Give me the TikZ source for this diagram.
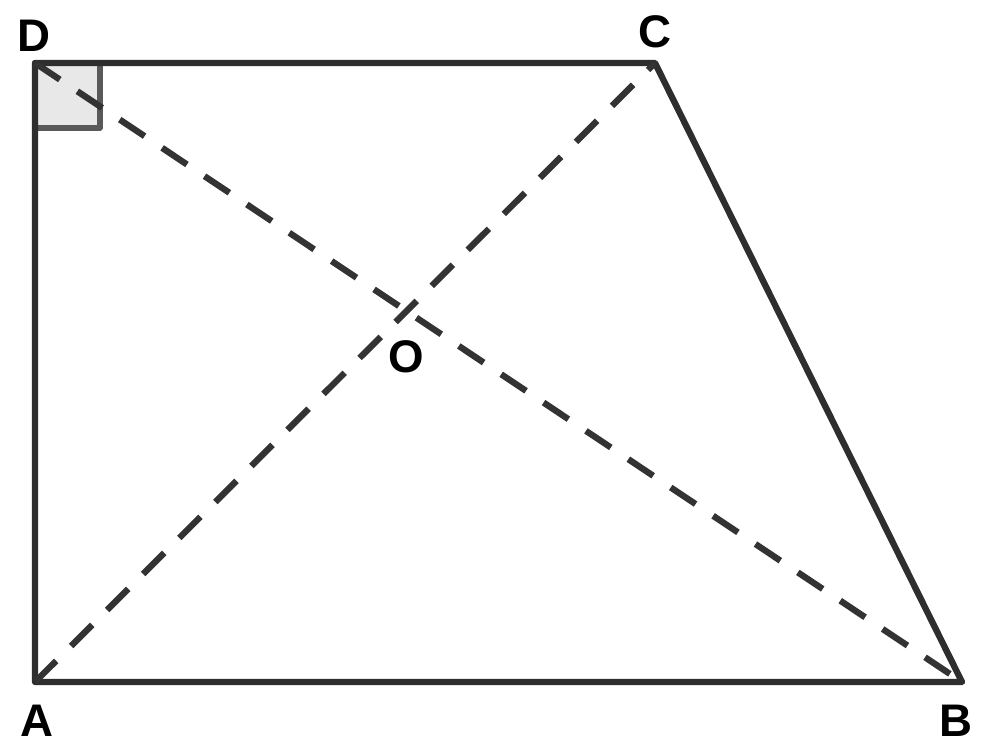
\documentclass[tikz,border=0pt]{standalone}
\usepackage{fontspec}
\setmainfont{Liberation Sans}
\begin{document}
\begin{tikzpicture}[line width=3.6pt,line join=round,
 side/.style={draw=black!82},
 diag/.style={draw=black!80,dash pattern=on 17pt off 12pt},
 lbl/.style={font=\fontsize{26}{30}\selectfont\bfseries}]
 \useasboundingbox (0,0) rectangle (19.7,15.02);
 \coordinate (A) at (0.7,1.38);
 \coordinate (B) at (19.24,1.38);
 \coordinate (C) at (13.1,13.76);
 \coordinate (D) at (0.7,13.76);
 \coordinate (O) at (intersection of A--C and D--B);
 % right angle at D
 \draw[fill=black!9,draw=black!65,line width=3.2pt] (D) rectangle ++(1.3,-1.3);
 \draw[side] (A) -- (B) -- (C) -- (D) -- cycle;
 \draw[diag] (A) -- (C);
 \draw[diag] (D) -- (B);
 \draw (0.68,14.3) node[lbl] (Dl) {D};
 \draw (13.1,14.38) node[lbl] (Cl) {C};
 \draw (0.74,0.6) node[lbl] (Al) {A};
 \draw (19.12,0.6) node[lbl] (Bl) {B};
 \draw (O) ++(0,-0.92) node[lbl] (Ol) {O};
\end{tikzpicture}
\end{document}
